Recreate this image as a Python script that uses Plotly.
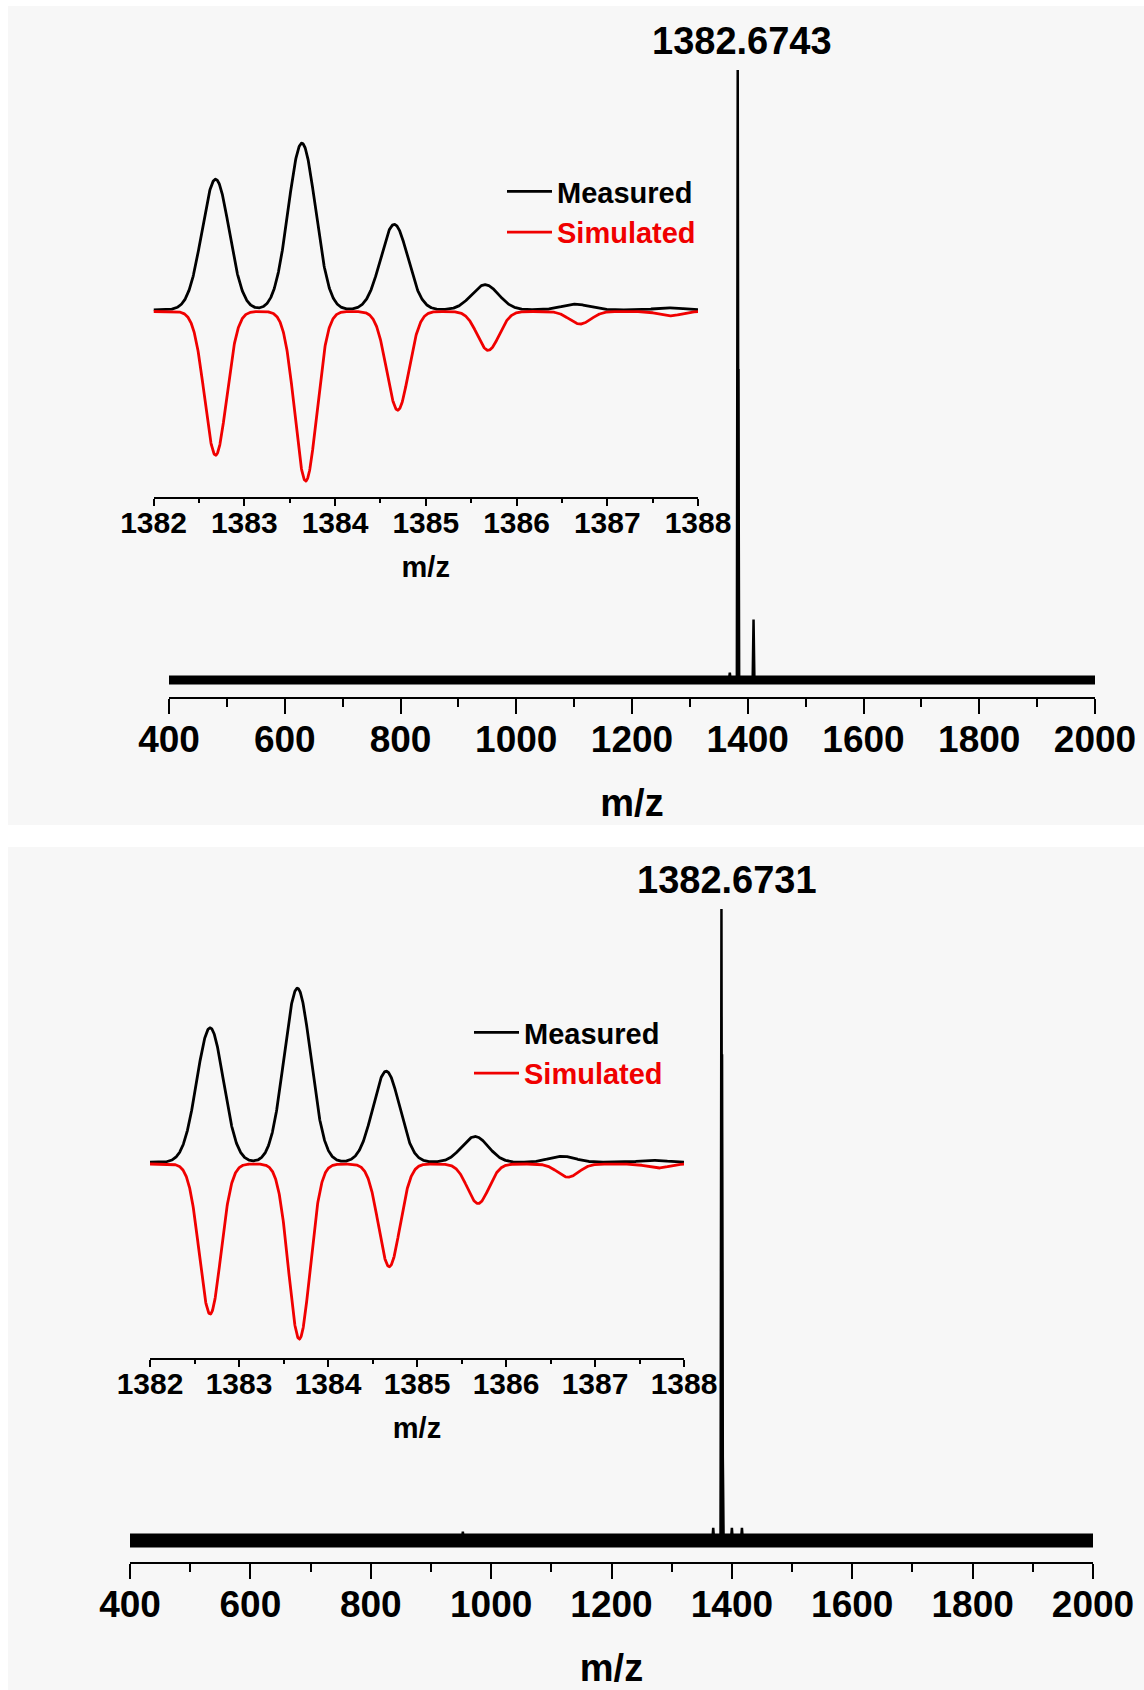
import numpy as np
import plotly.graph_objects as go

W, H = 1144, 1690

# ---------------- survey spectra (relative intensity, %) ----------------
survey_ticks = [400, 600, 800, 1000, 1200, 1400, 1600, 1800, 2000]

top_peak_mz = [1369.0, 1382.6743, 1383.67, 1410.0]
top_peak_int = [1.2, 100.0, 51.0, 9.9]
top_label = "1382.6743"

bottom_peak_mz = [953.0, 1369.0, 1382.6731, 1383.67, 1384.67, 1400.0, 1416.7, 1458.0]
bottom_peak_int = [1.4, 2.0, 100.0, 77.0, 15.0, 2.0, 2.0, 1.0]
bottom_label = "1382.6731"

# ---------------- isotope patterns (inset, relative intensity, %) ----------------
inset_ticks = [1382, 1383, 1384, 1385, 1386, 1387, 1388]

top_meas_mz = [1382.684, 1383.635, 1384.653, 1385.654, 1386.650, 1387.680]
top_meas_int = [77.0, 98.3, 50.4, 14.8, 3.3, 1.1]
top_sim_mz = [1382.684, 1383.677, 1384.691, 1385.688, 1386.700, 1387.690]
top_sim_int = [84.8, 100.0, 58.2, 22.9, 7.4, 2.6]

bottom_meas_mz = [1382.675, 1383.656, 1384.654, 1385.652, 1386.630, 1387.660]
bottom_meas_int = [76.8, 99.4, 52.0, 14.7, 3.4, 1.1]
bottom_sim_mz = [1382.675, 1383.677, 1384.688, 1385.686, 1386.697, 1387.707]
bottom_sim_int = [85.8, 100.0, 58.7, 22.6, 7.5, 2.3]

MEAS_WIDTH = 0.15   # Gaussian sigma of measured peaks (Da)
SIM_WIDTH = 0.12    # Gaussian sigma of simulated peaks (Da)
MEAS_OFFSET = 1.0   # small baseline lift of the measured trace

RED = "#f00000"
BOLD = "Liberation Sans, Arial, sans-serif"


def sticks(mz, inten, half=1.5):
    """Centroid list -> narrow triangular sticks for the survey trace."""
    xs, ys = [], []
    for c, h in zip(mz, inten):
        xs += [c - half, c, c + half, None]
        ys += [0, h, 0, None]
    return xs, ys


def profile(grid, mz, inten, sigma):
    """Sum of Gaussian line shapes centred on the listed peaks."""
    out = np.zeros_like(grid)
    for c, h in zip(mz, inten):
        out += h * np.exp(-0.5 * ((grid - c) / sigma) ** 2)
    return out


def px_x(a, b):
    return [a / W, b / W]


def px_y(top, bottom):
    return [1 - bottom / H, 1 - top / H]


fig = go.Figure()
grid = np.linspace(1382, 1388, 1801)

panels = [
    dict(xa="x", ya="y", xi="x2", yi="y2", pk=(top_peak_mz, top_peak_int), band=9,
         meas=(top_meas_mz, top_meas_int), sim=(top_sim_mz, top_sim_int), leg="legend"),
    dict(xa="x3", ya="y3", xi="x4", yi="y4", pk=(bottom_peak_mz, bottom_peak_int), band=14,
         meas=(bottom_meas_mz, bottom_meas_int), sim=(bottom_sim_mz, bottom_sim_int), leg="legend2"),
]

for p in panels:
    # noise floor of the survey scan
    fig.add_trace(go.Scatter(x=[survey_ticks[0], survey_ticks[-1]], y=[0, 0], mode="lines",
                             line=dict(color="black", width=p["band"]), xaxis=p["xa"], yaxis=p["ya"],
                             showlegend=False, hoverinfo="skip"))
    sx, sy = sticks(*p["pk"])
    fig.add_trace(go.Scatter(x=sx, y=sy, mode="lines", line=dict(color="black", width=2.5),
                             xaxis=p["xa"], yaxis=p["ya"], showlegend=False, connectgaps=False))
    # isotope pattern: measured upward, simulated mirrored downward
    fig.add_trace(go.Scatter(x=grid, y=profile(grid, *p["meas"], MEAS_WIDTH) + MEAS_OFFSET,
                             mode="lines", line=dict(color="black", width=2.8),
                             xaxis=p["xi"], yaxis=p["yi"], name="Measured", legend=p["leg"]))
    fig.add_trace(go.Scatter(x=grid, y=-profile(grid, *p["sim"], SIM_WIDTH),
                             mode="lines", line=dict(color=RED, width=2.8),
                             xaxis=p["xi"], yaxis=p["yi"],
                             name=f"<span style='color:{RED}'>Simulated</span>", legend=p["leg"]))

main_axis = dict(range=[400, 2000], tickvals=survey_ticks, showline=True, linecolor="black", linewidth=2,
                 ticks="outside", ticklen=15, tickwidth=2, tickcolor="black", automargin=False,
                 ticklabelstandoff=-6,
                 minor=dict(dtick=100, ticks="outside", ticklen=8, tickwidth=2, tickcolor="black"),
                 tickfont=dict(family=BOLD, size=37, color="black", weight="bold"),
                 showgrid=False, zeroline=False,
                 title=dict(text="m/z", font=dict(family=BOLD, size=38, color="black", weight="bold"),
                            standoff=30))
inset_axis = dict(range=[1382, 1388], tickvals=inset_ticks, showline=True, linecolor="black", linewidth=2,
                  ticks="outside", ticklen=7, tickwidth=2, tickcolor="black", automargin=False,
                  ticklabelstandoff=-9,
                  minor=dict(dtick=0.5, ticks="outside", ticklen=4, tickwidth=2, tickcolor="black"),
                  tickfont=dict(family=BOLD, size=30, color="black", weight="bold"),
                  showgrid=False, zeroline=False,
                  title=dict(text="m/z", font=dict(family=BOLD, size=29, color="black", weight="bold"),
                             standoff=19))
hidden = dict(visible=False, showgrid=False, zeroline=False, automargin=False)
legend_font = dict(family=BOLD, size=29, color="black", weight="bold")

fig.update_layout(
    width=W, height=H, margin=dict(l=0, r=0, t=0, b=0, autoexpand=False),
    paper_bgcolor="white", plot_bgcolor="rgba(0,0,0,0)",
    xaxis=dict(main_axis, domain=px_x(169, 1095), anchor="y"),
    yaxis=dict(hidden, domain=px_y(60, 697), range=[-2.787, 101.64], anchor="x"),
    xaxis2=dict(inset_axis, domain=px_x(153.5, 698), anchor="y2"),
    yaxis2=dict(hidden, domain=px_y(125, 497), range=[-109.44, 110.03], anchor="x2"),
    xaxis3=dict(main_axis, domain=px_x(130, 1093), anchor="y3"),
    yaxis3=dict(hidden, domain=px_y(880, 1562), range=[-3.40, 104.59], anchor="x3"),
    xaxis4=dict(inset_axis, domain=px_x(150, 684), anchor="y4"),
    yaxis4=dict(hidden, domain=px_y(971.5, 1358), range=[-110.86, 110.0], anchor="x4"),
    legend=dict(x=502 / W, y=1 - 166 / H, xanchor="left", yanchor="top", bgcolor="rgba(0,0,0,0)",
                font=legend_font, itemwidth=45, tracegroupgap=0),
    legend2=dict(x=469 / W, y=1 - 1007 / H, xanchor="left", yanchor="top", bgcolor="rgba(0,0,0,0)",
                 font=legend_font, itemwidth=45, tracegroupgap=0),
    shapes=[
        dict(type="rect", xref="paper", yref="paper", x0=8 / W, x1=1, y0=1 - 825 / H, y1=1 - 6 / H,
             fillcolor="#f7f7f7", line=dict(width=0), layer="below"),
        dict(type="rect", xref="paper", yref="paper", x0=8 / W, x1=1, y0=0, y1=1 - 847 / H,
             fillcolor="#f7f7f7", line=dict(width=0), layer="below"),
    ],
    annotations=[
        dict(text=top_label, x=top_peak_mz[1], xref="x", y=1 - 41 / H, yref="paper", xshift=4,
             yanchor="middle", showarrow=False,
             font=dict(family=BOLD, size=38, color="black", weight="bold")),
        dict(text=bottom_label, x=bottom_peak_mz[2], xref="x3", y=1 - 880 / H, yref="paper", xshift=6,
             yanchor="middle", showarrow=False,
             font=dict(family=BOLD, size=38, color="black", weight="bold")),
    ],
)

fig.write_html("out.html")
